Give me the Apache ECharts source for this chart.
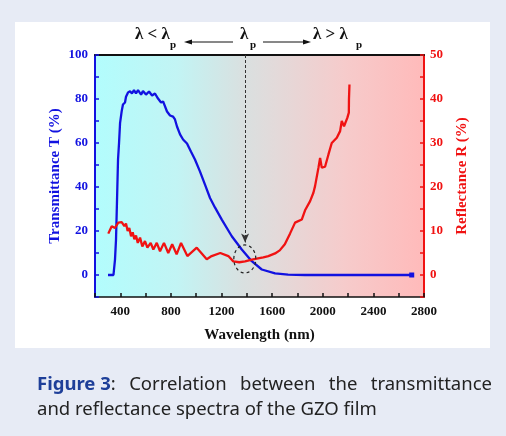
<!DOCTYPE html>
<html>
<head>
<meta charset="utf-8">
<script src="https://cdn.jsdelivr.net/npm/echarts@6/dist/echarts.min.js"></script>
<style>
  html, body { margin: 0; padding: 0; background: #e7ebf5; }
  #chart { width: 506px; height: 436px; }
</style>
</head>
<body>
<div id="chart"></div>
<script>
// 透射谱 (左轴)
const wavelengthT = [303, 346, 358, 366, 374, 382, 390, 398, 411, 421, 437, 445, 461, 477, 492, 508, 524, 540, 564, 579,
  603, 627, 651, 674, 698, 722, 738, 753, 769, 793, 817, 832, 848, 872, 896, 927, 959, 990, 1030, 1070,
  1109, 1149, 1202, 1281, 1360, 1439, 1518, 1623, 1726, 1860, 2200, 2703]
const transmittance = [0, 0, 7, 16, 34, 52.5, 60, 69, 74.5, 77.5, 78.4, 81, 83, 83.5, 82.5, 84, 82.5, 84, 82, 83.6,
  82, 83.4, 81.6, 82.5, 80.2, 78.4, 78.9, 78, 74.3, 72.5, 72, 70.7, 67.5, 63.9, 61.6, 59.8, 56, 52.5, 47, 41,
  35, 30.6, 25.2, 17.6, 11.6, 6.3, 2.5, 0.7, 0.2, 0, 0, 0]
// 反射谱 (右轴)
const wavelengthR = [305, 332, 358, 384, 411, 432, 445, 458, 471, 485, 498, 511, 524, 538, 556, 574, 595, 614, 640, 661,
  688, 714, 745, 779, 810, 845, 880, 930, 1004, 1083, 1122, 1190, 1254, 1293, 1340, 1386, 1440, 1478, 1530, 1570,
  1623, 1660, 1700, 1741, 1781, 1834, 1860, 1900, 1926, 1939, 1966, 1979, 1992, 2018, 2045, 2071, 2111, 2137, 2150, 2168,
  2194, 2206, 2207, 2211]
const reflectance = [9.4, 11.1, 10.7, 11.9, 12, 11.1, 11.7, 10, 10.7, 8.8, 9.7, 8.1, 9, 7.3, 8.5, 6.5, 7.7, 6.2, 7.3, 5.8,
  7.3, 5.4, 7.3, 5.0, 7.0, 4.7, 7.3, 4.3, 6.2, 3.6, 4.3, 5.0, 4.3, 3.1, 2.9, 3.1, 3.5, 3.7, 4.0, 4.3,
  4.9, 5.6, 7, 9.4, 11.9, 12.6, 14.7, 16.8, 18.7, 20.2, 24.4, 26.6, 24.4, 24.6, 27.4, 30, 31.2, 32.7, 35, 33.8,
  35.7, 36.9, 39.9, 43.3]
// 坐标轴刻度
const xTicks = [400, 800, 1200, 1600, 2000, 2400, 2800]
const tTicks = [0, 20, 40, 60, 80, 100]
const rTicks = [0, 10, 20, 30, 40, 50]
// 等离子体波长 λp 及标记圈
const lambdaP = 1386
const arrowEndT = 14.8
const circleCenter = [1384, 7.3]

const serif = '"Liberation Serif", "Times New Roman", serif'
const blue = '#1212e0'
const red = '#f01212'

const machart = echarts.init(document.getElementById('chart'))

// 图注排版 (两端对齐)
const ctx = document.createElement('canvas').getContext('2d')
const measure = (text, bold, fs) => {
  ctx.font = (bold ? 'bold ' : '') + fs + 'px "Noto Sans"'
  return ctx.measureText(text).width
}
const line2 = 'and reflectance spectra of the GZO film'
const capFs = 17 * 340 / measure(line2, false, 17)
const capLeft = 37, capRight = 492
const words = ['Correlation', 'between', 'the', 'transmittance']
const headW = measure('Figure 3', true, capFs) + measure(':', false, capFs)
let total = headW
words.forEach(w => { total += measure(w, false, capFs) })
const gap = (capRight - capLeft - total) / words.length
const captionEls = [{
  type: 'text', left: capLeft, top: 375,
  style: {
    text: '{b|Figure 3}{n|:}',
    rich: {
      b: { fontFamily: 'Noto Sans', fontWeight: 'bold', fontSize: capFs, fill: '#1e3f99' },
      n: { fontFamily: 'Noto Sans', fontSize: capFs, fill: '#222' }
    }
  }
}]
let cx = capLeft + headW + gap
words.forEach(w => {
  captionEls.push({ type: 'text', left: cx, top: 375, style: { text: w, font: capFs + 'px "Noto Sans"', fill: '#222' } })
  cx += measure(w, false, capFs) + gap
})
captionEls.push({ type: 'text', left: capLeft, top: 400, style: { text: line2, font: capFs + 'px "Noto Sans"', fill: '#222' } })

// 顶部 λ 注释
const lamStyle = { fontFamily: serif, fontWeight: 'bold', fontSize: 17, fill: '#111', verticalAlign: 'middle' }
const subStyle = { fontFamily: serif, fontWeight: 'bold', fontSize: 11, fill: '#111', verticalAlign: 'middle' }
const topEls = [
  { type: 'text', x: 135, y: 35, style: { ...lamStyle, text: 'λ < λ' } },
  { type: 'text', x: 170, y: 45, style: { ...subStyle, text: 'p' } },
  { type: 'text', x: 240, y: 35, style: { ...lamStyle, text: 'λ' } },
  { type: 'text', x: 250, y: 45, style: { ...subStyle, text: 'p' } },
  { type: 'text', x: 313, y: 35, style: { ...lamStyle, text: 'λ > λ' } },
  { type: 'text', x: 356, y: 45, style: { ...subStyle, text: 'p' } },
  { type: 'line', shape: { x1: 190, y1: 42, x2: 233, y2: 42 }, style: { stroke: '#111', lineWidth: 1 } },
  { type: 'polygon', shape: { points: [[184, 42], [192, 39.5], [192, 44.5]] }, style: { fill: '#111' } },
  { type: 'line', shape: { x1: 263, y1: 42, x2: 305, y2: 42 }, style: { stroke: '#111', lineWidth: 1 } },
  { type: 'polygon', shape: { points: [[311, 42], [303, 39.5], [303, 44.5]] }, style: { fill: '#111' } }
]

const option = {
  backgroundColor: '#e7ebf5',
  animation: false,
  graphic: [
    { type: 'rect', z: -100, shape: { x: 15, y: 22, width: 475, height: 326 }, style: { fill: '#ffffff' } },
    ...topEls,
    ...captionEls
  ],
  grid: {
    left: 95,
    right: 82,
    top: 55,
    bottom: 139,
    show: true,
    borderWidth: 0,
    backgroundColor: new echarts.graphic.LinearGradient(0, 0, 1, 0, [
      { offset: 0, color: '#b2fdfd' },
      { offset: 0.25, color: '#c2f4f4' },
      { offset: 0.45, color: '#d9e0e0' },
      { offset: 0.53, color: '#e1dbdb' },
      { offset: 0.76, color: '#f6cbcb' },
      { offset: 1, color: '#ffbaba' }
    ])
  },
  xAxis: [
    {
      type: 'value',
      position: 'bottom',
      min: 200,
      max: 2800,
      interval: 200,
      axisLine: { show: true, onZero: false, lineStyle: { color: '#111', width: 1.5 } },
      axisTick: { show: true, inside: true, length: 4, lineStyle: { color: '#111', width: 1.5 } },
      axisLabel: {
        margin: 8,
        color: '#111',
        fontFamily: serif,
        fontWeight: 'bold',
        fontSize: 13,
        formatter: v => (xTicks.includes(v) ? String(v) : '')
      },
      splitLine: { show: false },
      name: 'Wavelength (nm)',
      nameLocation: 'middle',
      nameGap: 31,
      nameTextStyle: { color: '#111', fontFamily: serif, fontWeight: 'bold', fontSize: 15 }
    },
    {
      type: 'value',
      position: 'top',
      min: 200,
      max: 2800,
      axisLine: { show: true, onZero: false, lineStyle: { color: '#111', width: 2 } },
      axisTick: { show: false },
      axisLabel: { show: false },
      splitLine: { show: false }
    }
  ],
  yAxis: [
    {
      type: 'value',
      position: 'left',
      min: -10,
      max: 100,
      interval: 10,
      axisLine: { show: true, onZero: false, lineStyle: { color: blue, width: 2 } },
      axisTick: { show: true, inside: true, length: 4, lineStyle: { color: blue, width: 1.5 } },
      axisLabel: {
        margin: 7,
        color: blue,
        fontFamily: serif,
        fontWeight: 'bold',
        fontSize: 13,
        formatter: v => (tTicks.includes(v) ? String(v) : '')
      },
      splitLine: { show: false },
      name: 'Transmittance T (%)',
      nameLocation: 'middle',
      nameGap: 32,
      nameMoveOverlap: false,
      nameTextStyle: { color: blue, fontFamily: serif, fontWeight: 'bold', fontSize: 15 }
    },
    {
      type: 'value',
      position: 'right',
      min: -5,
      max: 50,
      interval: 5,
      axisLine: { show: true, onZero: false, lineStyle: { color: red, width: 2 } },
      axisTick: { show: true, inside: true, length: 4, lineStyle: { color: red, width: 1.5 } },
      axisLabel: {
        margin: 6,
        color: red,
        fontFamily: serif,
        fontWeight: 'bold',
        fontSize: 13,
        formatter: v => (rTicks.includes(v) ? String(v) : '')
      },
      splitLine: { show: false },
      name: 'Reflectance R (%)',
      nameLocation: 'middle',
      nameGap: 31,
      nameRotate: 90,
      nameTextStyle: { color: red, fontFamily: serif, fontWeight: 'bold', fontSize: 15 }
    }
  ],
  series: [
    {
      name: 'T',
      type: 'line',
      xAxisIndex: 0,
      yAxisIndex: 0,
      symbol: 'none',
      showSymbol: true,
      showAllSymbol: true,
      lineStyle: { color: blue, width: 2.3 },
      itemStyle: { color: blue },
      data: wavelengthT.map((x, i) => (i === wavelengthT.length - 1
        ? { value: [x, transmittance[i]], symbol: 'rect', symbolSize: 5 }
        : [x, transmittance[i]])),
      markLine: {
        silent: true,
        symbol: ['none', 'arrow'],
        symbolSize: [6, 9],
        label: { show: false },
        lineStyle: { color: '#333', type: [3, 2], width: 1 },
        data: [[{ coord: [lambdaP, 100] }, { coord: [lambdaP, arrowEndT] }]]
      }
    },
    {
      name: 'R',
      type: 'line',
      xAxisIndex: 0,
      yAxisIndex: 1,
      symbol: 'none',
      lineStyle: { color: red, width: 2.3 },
      itemStyle: { color: red },
      data: wavelengthR.map((x, i) => [x, reflectance[i]])
    },
    {
      name: 'circle',
      type: 'custom',
      xAxisIndex: 0,
      yAxisIndex: 0,
      silent: true,
      z: 5,
      data: [circleCenter],
      renderItem: (params, api) => {
        const c = api.coord([api.value(0), api.value(1)])
        return {
          type: 'ellipse',
          shape: { cx: c[0], cy: c[1], rx: 11, ry: 14 },
          style: { fill: 'none', stroke: '#222', lineWidth: 1.2, lineDash: [3, 3] }
        }
      }
    }
  ]
}
machart.setOption(option)
</script>
</body>
</html>
